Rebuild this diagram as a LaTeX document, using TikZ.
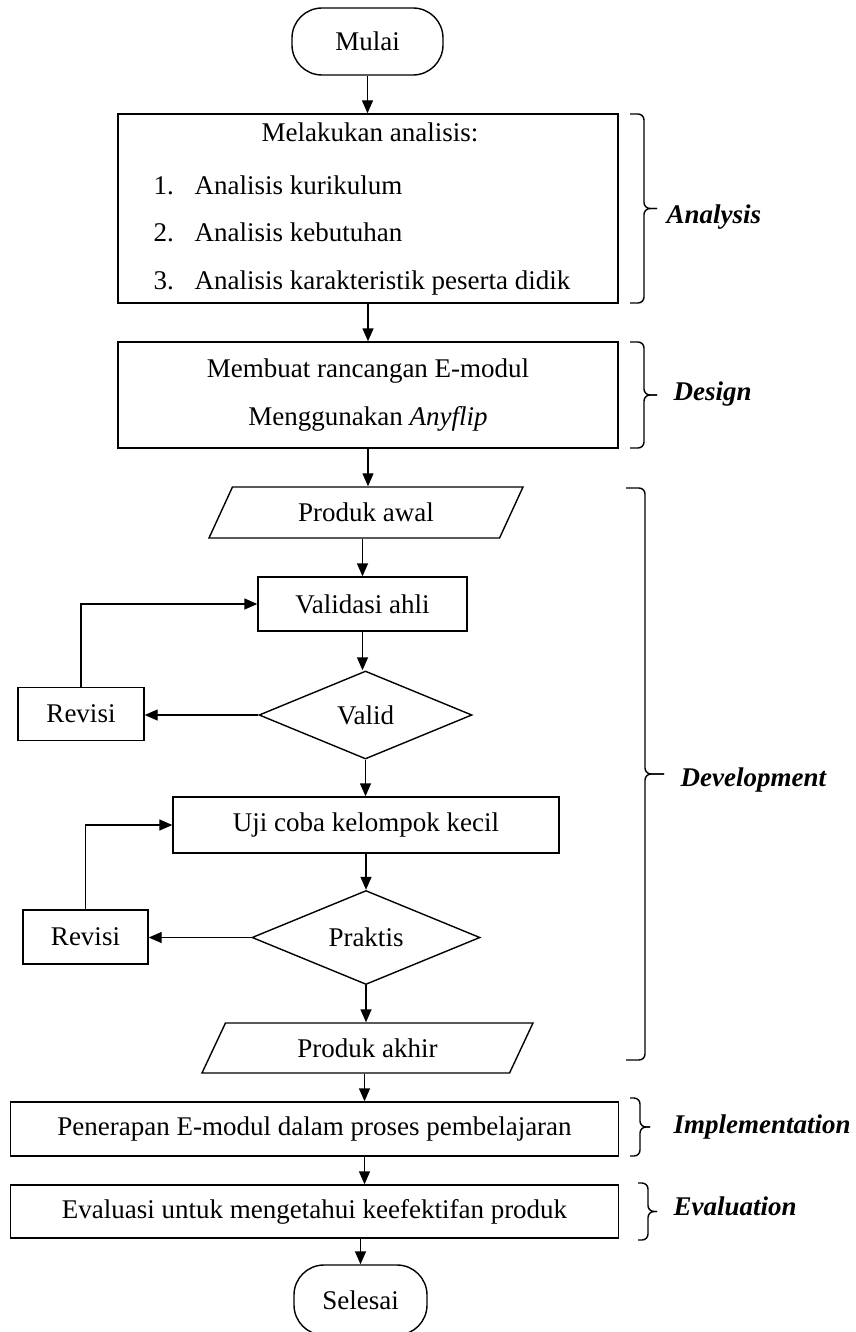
\documentclass[tikz,border=0pt]{standalone}
\usepackage{fontspec}
\setmainfont{Liberation Serif}
\usetikzlibrary{shapes.geometric,arrows.meta}
\newcommand{\kurung}[5]{%
  \draw[rounded corners=6pt] (#1,#2) -- (#1+#4,#2) |- (#1+#5,{(#2+#3)/2});
  \draw[rounded corners=6pt] (#1+#5,{(#2+#3)/2}) -| (#1+#4,#3) -- (#1,#3);}

\begin{document}
\begin{tikzpicture}[x=1pt,y=-1pt,line width=1.4pt,
  every node/.style={font=\fontsize{27}{48}\selectfont,inner sep=0pt},
  term/.style={draw,rectangle,rounded corners=30pt,minimum height=67pt},
  box/.style={draw,rectangle},
  io/.style={draw,trapezium,trapezium left angle=39,trapezium right angle=141,trapezium stretches body,minimum height=51pt},
  decision/.style={draw,diamond,minimum height=88pt},
  arr/.style={-{Triangle[length=13pt,width=11pt]}},
  phase/.style={anchor=west,font=\fontsize{27}{32}\selectfont\bfseries\itshape}]
          \useasboundingbox (0,0) rectangle (855,1332);
          \node[term,minimum width=151pt] (mulai) at (367.5,41.5) {Mulai};
          \node[box,minimum width=500pt,minimum height=189pt] (analisis) at (368,208.5) {};
          \node[anchor=base] (judul) at (370,142) {Melakukan analisis:};
          \node[anchor=base west] (no1) at (153,195) {1.};
          \node[anchor=base west] (no2) at (153,242) {2.};
          \node[anchor=base west] (no3) at (153,289) {3.};
          \node[anchor=base west] (item1) at (194,195) {Analisis kurikulum};
          \node[anchor=base west] (item2) at (194,242) {Analisis kebutuhan};
          \node[anchor=base west] (item3) at (194,289) {Analisis karakteristik peserta didik};
          \node[box,minimum width=500pt,minimum height=106pt,align=center] (desain) at (368,395)
            {Membuat rancangan E-modul\\Menggunakan \textit{Anyflip}};
          \node[io,minimum width=314pt] (awal) at (366,512.5) {Produk awal};
          \node[box,minimum width=209pt,minimum height=54pt] (validasi) at (362.5,604) {Validasi ahli};
          \node[decision,minimum width=213pt] (valid) at (365.5,715) {Valid};
          \node[box,minimum width=126pt,minimum height=53pt] (revisi1) at (81,714) {Revisi};
          \node[box,minimum width=386pt,minimum height=56pt] (uji) at (366,825) {Uji coba kelompok kecil};
          \node[decision,minimum width=228pt] (praktis) at (366,937.5) {Praktis};
          \node[box,minimum width=125pt,minimum height=54pt] (revisi2) at (85.5,937) {Revisi};
          \node[io,minimum width=331pt,minimum height=50pt] (akhir) at (367.5,1048) {Produk akhir};
          \node[box,minimum width=608pt,minimum height=54pt] (terap) at (314.5,1129) {Penerapan E-modul dalam proses pembelajaran};
          \node[box,minimum width=608pt,minimum height=53pt] (evaluasi) at (314.5,1211.5) {Evaluasi untuk mengetahui keefektifan produk};
          \node[term,minimum width=133pt,minimum height=70pt] (selesai) at (360.5,1300) {Selesai};
          \draw[arr] (mulai) -- (mulai |- analisis.north);
          \draw[arr] (analisis) -- (desain);
          \draw[arr] (desain.south) -- (desain.south |- awal.north);
          \draw[arr] (validasi.north |- awal.south) -- (validasi.north);
          \draw[arr] (validasi) -- (validasi.south |- valid.north);
          \draw[arr] (valid.west) -- (valid.west -| revisi1.east);
          \draw[arr] (revisi1.north) |- (validasi.west);
          \draw[arr] (valid.south) -- (valid.south |- uji.north);
          \draw[arr] (uji) -- (praktis);
          \draw[arr] (praktis.west) -- (praktis.west -| revisi2.east);
          \draw[arr] (revisi2.north) |- (uji.west);
          \draw[arr] (praktis.south) -- (praktis.south |- akhir.north);
          \draw[arr] ([xshift=-3pt]akhir.south) -- ([xshift=-3pt]akhir.south |- terap.north);
          \draw[arr] ([xshift=-3pt]akhir.south |- terap.south) -- ([xshift=-3pt]akhir.south |- evaluasi.north);
          \draw[arr] (selesai.north |- evaluasi.south) -- (selesai.north);
          \kurung{630}{114}{303}{14}{27}
          \node[phase] (analysis) at (666,217) {Analysis};
          \kurung{630}{342}{448}{14}{27}
          \node[phase] (design) at (673,394) {Design};
          \kurung{626}{488}{1060}{19}{38}
          \node[phase] (development) at (680,780) {Development};
          \kurung{630}{1098}{1156}{10}{20}
          \node[phase] (implementation) at (673,1127) {Implementation};
          \kurung{638}{1183}{1240}{10}{19}
          \node[phase] (evaluation) at (673,1206) {Evaluation};
          \end{tikzpicture}
\end{document}
